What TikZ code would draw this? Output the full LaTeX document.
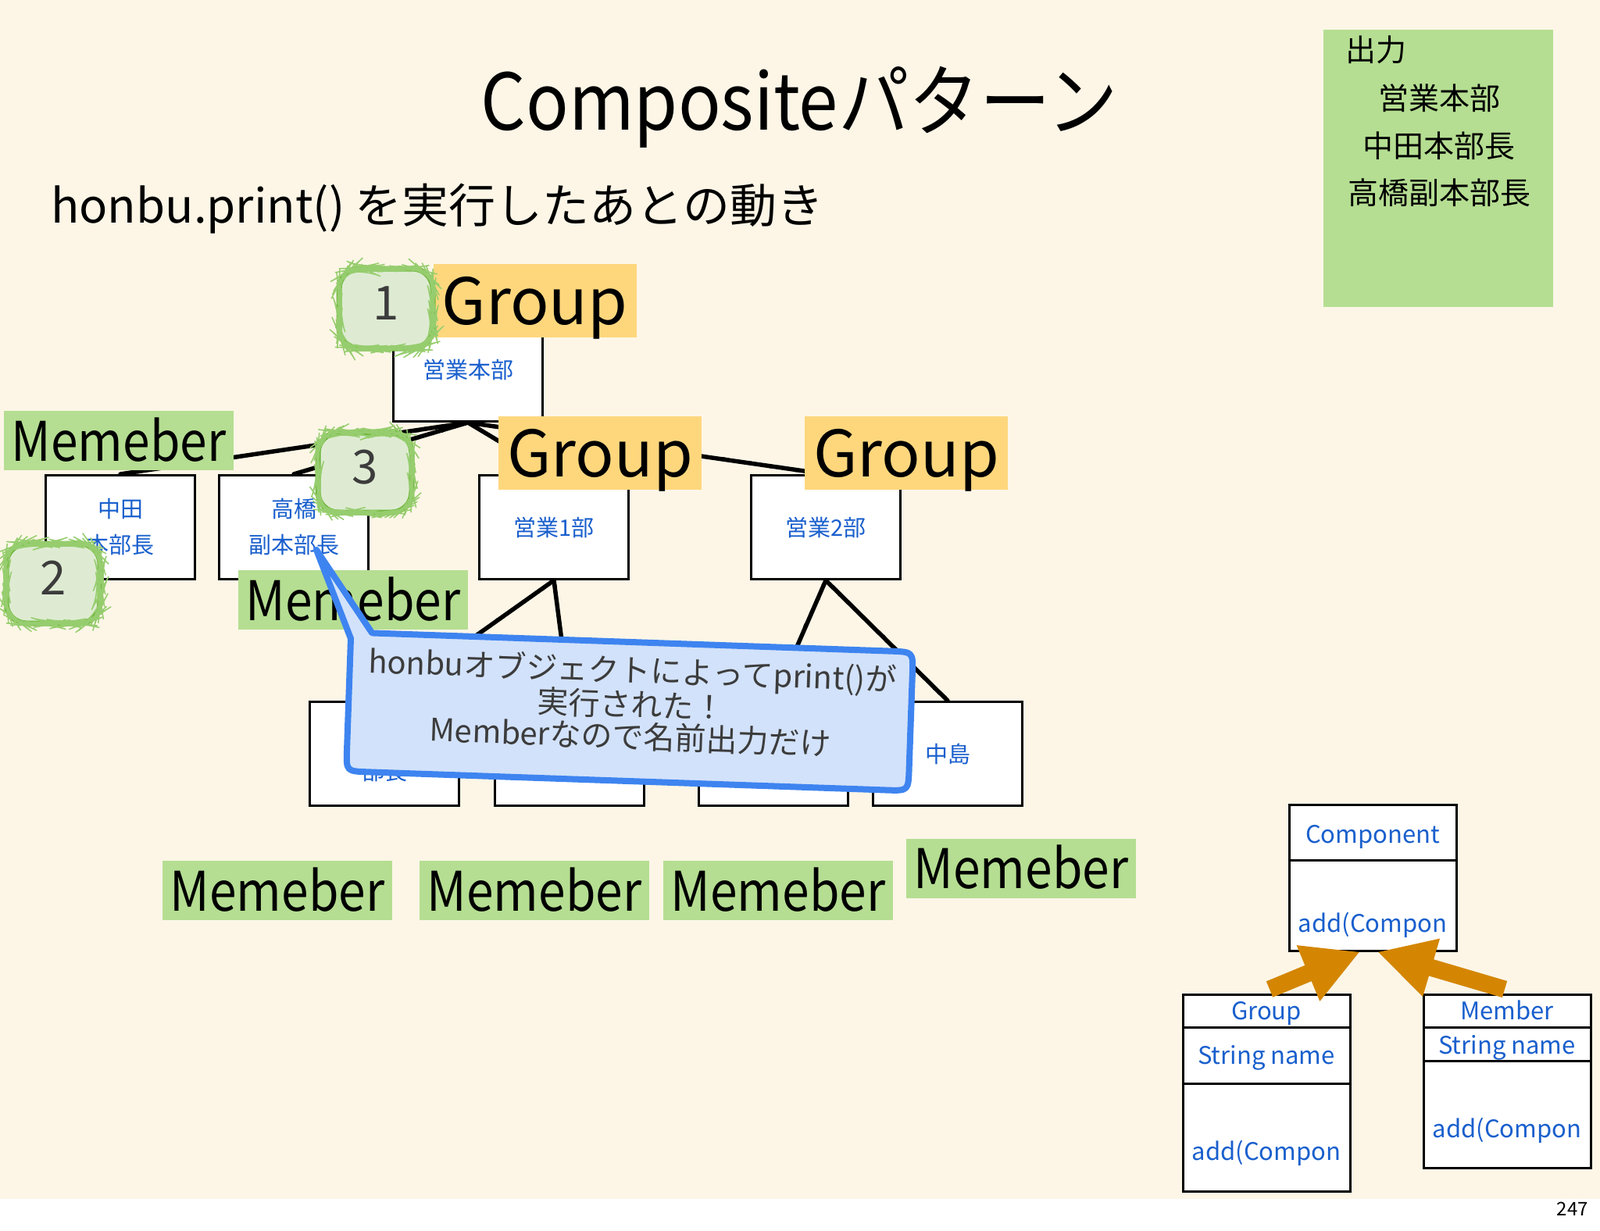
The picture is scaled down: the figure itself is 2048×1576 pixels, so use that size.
\documentclass[tikz,border=0pt]{standalone}
\usepackage{fontspec}
\setmainfont{Noto Sans CJK JP}
\usetikzlibrary{arrows.meta,decorations.pathmorphing,calc}
\definecolor{bgc}{RGB}{253,246,231}
\definecolor{orangeL}{RGB}{254,215,125}
\definecolor{greenL}{RGB}{181,222,146}
\definecolor{txtblue}{RGB}{25,95,205}
\definecolor{badgeFill}{RGB}{222,235,210}
\definecolor{badgeLine}{RGB}{112,182,62}
\definecolor{badgeLine2}{RGB}{150,205,110}
\definecolor{bubFill}{RGB}{210,226,250}
\definecolor{bubLine}{RGB}{62,132,240}
\definecolor{arrowOr}{RGB}{212,134,2}
\definecolor{bubtext}{RGB}{60,60,60}
\newcommand{\myfs}[1]{\fontsize{#1}{#1}\selectfont}
\newcommand{\memtxt}{\scalebox{0.89}[1]{Memeber}}
\begin{document}
\begin{tikzpicture}[x=1pt,y=-1pt,
  orgbox/.style={draw=black, line width=3pt, fill=white, minimum width=191pt, minimum height=133pt, inner sep=0pt, align=center, text=txtblue, font=\fontsize{29}{46}\selectfont},
  grplabel/.style={fill=orangeL, minimum width=260pt, minimum height=94pt, inner sep=0pt, text height=60pt, text depth=0pt, font=\myfs{82}},
  memlabel/.style={fill=greenL, minimum width=294pt, minimum height=76pt, inner sep=0pt, text height=52pt, text depth=0pt, font=\myfs{70}},
  conn/.style={draw=black, line width=5.5pt, line cap=round, postaction={draw=black, line width=2pt, decorate, decoration={random steps, segment length=6pt, amplitude=2pt}}},
  badge/.style={draw=badgeLine, fill=badgeFill, line width=7pt, rounded corners=26pt, minimum width=120pt, minimum height=102pt, inner sep=0pt, text=bubtext, text height=29pt, text depth=0pt, font=\myfs{60}, postaction={draw=badgeLine2, line width=1.5pt, decorate, decoration={random steps, segment length=5pt, amplitude=1pt}}},
  umlcell/.style={draw=black, line width=3pt, fill=white, minimum width=214pt, inner sep=0pt},
  umltext/.style={text=txtblue, font=\myfs{31}, inner sep=0pt, anchor=base},
  inh/.style={draw=arrowOr, line width=22pt, -{Triangle[length=72pt,width=72pt]}}
]
\useasboundingbox (0,0) rectangle (2048,1576);
\fill[bgc] (0,0) rectangle (2048,1535);
\fill[white] (0,1535) rectangle (2048,1576);

% titles
\node[anchor=base, inner sep=0pt, font=\myfs{100}] (title) at (1023,167) {\scalebox{0.905}[1]{Compositeパターン}};
\node[anchor=base west, inner sep=0pt, font=\myfs{60}] (subtitle) at (65,285) {honbu.print() を実行したあとの動き};

% output box
\node[fill=greenL, minimum width=294pt, minimum height=355pt, inner sep=0pt] (outbox) at (1841,215.5) {};
\node[anchor=base west, inner sep=0pt, font=\myfs{39}] (outtitle) at (1722,79) {出力};
\node[anchor=base, inner sep=0pt, font=\myfs{39}] (out1) at (1842,141) {営業本部};
\node[anchor=base, inner sep=0pt, font=\myfs{39}] (out2) at (1842,201) {中田本部長};
\node[anchor=base, inner sep=0pt, font=\myfs{39}] (out3) at (1842,261) {高橋副本部長};

% organisation boxes
\node[orgbox] (honbu) at (599,473) {営業本部};
\node[orgbox] (nakata) at (154,675) {中田\\本部長};
\node[orgbox] (takahashi) at (376,675) {高橋\\副本部長};
\node[orgbox] (eigyo1) at (709,675) {営業1部};
\node[orgbox] (eigyo2) at (1057,675) {営業2部};
\node[orgbox] (m1) at (492,965) {\phantom{部}\\部長};
\node[orgbox] (m2) at (729,965) {};
\node[orgbox] (m3) at (990,965) {};
\node[orgbox] (m4) at (1213,965) {中島};

% connectors
\draw[conn] (honbu.south) -- (nakata.north);
\draw[conn] (honbu.south) -- (takahashi.north);
\draw[conn] (honbu.south) -- (eigyo1.north);
\draw[conn] (honbu.south) -- (eigyo2.north);
\draw[conn] (eigyo1.south) -- (m1.north);
\draw[conn] (eigyo1.south) -- (m2.north);
\draw[conn] (eigyo2.south) -- (m3.north);
\draw[conn] (eigyo2.south) -- (m4.north);

% labels
\node[grplabel] (g1) at (684.5,385) {Group};
\node[grplabel] (g2) at (768,580) {Group};
\node[grplabel] (g3) at (1160,580) {Group};
\node[memlabel] (ma) at (152,564) {\memtxt};
\node[memlabel] (mb) at (452,768) {\memtxt};
\node[memlabel] (mc) at (355,1140) {\memtxt};
\node[memlabel] (md) at (684,1140) {\memtxt};
\node[memlabel] (me) at (996,1140) {\memtxt};
\node[memlabel] (mf) at (1307,1111.5) {\memtxt};

% badges
\node[badge] (b1) at (494,395) {1};
\node[badge] (b3) at (467,605) {3};
\node[badge] (b2) at (68,747) {2};

% speech bubble
\begin{scope}[shift={(806,910)}, rotate=-2]
\draw[draw=bubLine, fill=bubFill, line width=8pt, line join=round]
  (-333,-88) -- (332,-88) .. controls (360,-88) .. (360,-60) -- (360,62)
  .. controls (360,90) .. (332,90) -- (-332,90) .. controls (-360,90) .. (-360,62)
  -- (-360,-80) -- (-408,-192) -- cycle;
\node[rotate=-2, align=center, text=bubtext, inner sep=0pt, font=\fontsize{40}{41}\selectfont] (bubtxt) at (2,-10)
  {honbuオブジェクトによってprint()が\\実行された！\\Memberなので名前出力だけ};
\end{scope}

% UML
\node[umlcell, minimum height=71pt] (cname) at (1757,1065.5) {};
\node[umlcell, minimum height=116pt] (cmeth) at (1757,1159) {};
\node[umltext] (cnametxt) at (1757,1079) {Component};
\node[umltext] (cmethtxt) at (1757,1193) {add(Compon};

\node[umlcell, minimum height=42pt] (gname) at (1621,1294) {};
\node[umlcell, minimum height=72pt] (gattr) at (1621,1351) {};
\node[umlcell, minimum height=138pt] (gmeth) at (1621,1456) {};
\node[umltext] (gnametxt) at (1621,1305) {Group};
\node[umltext] (gattrtxt) at (1621,1362) {String name};
\node[umltext] (gmethtxt) at (1621,1485) {add(Compon};

\node[umlcell, minimum height=42pt] (mname) at (1929,1294) {};
\node[umlcell, minimum height=43pt] (mattr) at (1929,1336.5) {};
\node[umlcell, minimum height=137pt] (mmeth) at (1929,1426.5) {};
\node[umltext] (mnametxt) at (1929,1305) {Member};
\node[umltext] (mattrtxt) at (1929,1349) {String name};
\node[umltext] (mmethtxt) at (1929,1456) {add(Compon};

\draw[inh] ($(gname.north)+(4,-5)$) -- ($(cmeth.south)+(-16,0)$);
\draw[inh] ($(mname.north)+(-3,-5)$) -- ($(cmeth.south)+(6,0)$);

% page number
\node[anchor=base east, inner sep=0pt, font=\myfs{24}] (pnum) at (2033,1556) {247};
\end{tikzpicture}
\end{document}
